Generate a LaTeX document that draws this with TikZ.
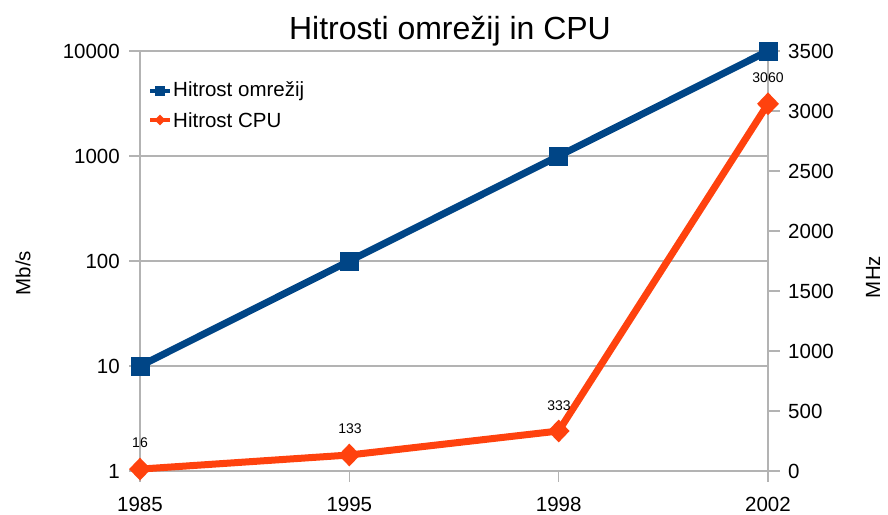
\documentclass[tikz,border=0pt]{standalone}
\usepackage{fontspec}
\setmainfont{Liberation Sans}
\usetikzlibrary{shapes.geometric}
\definecolor{netblue}{HTML}{004586}
\definecolor{cpuorange}{HTML}{FF420E}
\definecolor{gridgray}{HTML}{B3B3B3}
\tikzset{
  gridline/.style={draw=gridgray, line width=1.4pt},
  ticklbl/.style={font=\fontsize{20.5}{22}\selectfont, inner sep=0pt},
  datalbl/.style={font=\fontsize{14}{16}\selectfont, inner sep=0pt},
  netline/.style={draw=netblue, line width=7pt},
  cpuline/.style={draw=cpuorange, line width=7pt, line join=round},
  netmark/.style={fill=netblue, minimum size=19pt, inner sep=0pt, draw=none},
  cpumark/.style={fill=cpuorange, diamond, minimum width=22pt, minimum height=23pt, inner sep=0pt, draw=none},
}
\begin{document}
\begin{tikzpicture}[x=1pt, y=-1pt]
\useasboundingbox (0,0) rectangle (888,514);

% title
\node[anchor=base, font=\fontsize{32}{36}\selectfont, inner sep=0pt] (title) at (450,39) {Hitrosti omrežij in CPU};

% horizontal grid lines (decades of the left axis)
\foreach \yy/\lab in {51/10000,156/1000,261/100,366/10,471/1} {
  \draw[gridline] (129,\yy) -- (768,\yy);
  \node[ticklbl, anchor=east] (l\lab) at (120,\yy) {\lab};
}
% right axis ticks
\foreach \v in {0,500,...,3500} {
  \pgfmathsetmacro{\yy}{471-\v*0.12}
  \draw[gridline] (768,\yy) -- (780,\yy);
  \node[ticklbl, anchor=west] (r\v) at (788,\yy) {\v};
}
% axes
\draw[gridline] (140,51) -- (140,482);
\draw[gridline] (768,51) -- (768,482);
% category ticks and labels
\foreach \i/\yr in {0/1985,1/1995,2/1998,3/2002} {
  \pgfmathsetmacro{\xx}{140+\i*209.33}
  \draw[gridline] (\xx,471) -- (\xx,482);
  \node[ticklbl] (y\yr) at (\xx,504) {\yr};
}

% axis titles
\node[ticklbl, rotate=90] (ytitleL) at (23,273) {Mb/s};
\node[ticklbl, rotate=90] (ytitleR) at (873,277) {MHz};

% data points
\coordinate (n1) at (140,366);
\coordinate (n2) at (349.33,261);
\coordinate (n3) at (558.67,156);
\coordinate (n4) at (768,51);
\coordinate (c1) at (140,469.1);
\coordinate (c2) at (349.33,455.0);
\coordinate (c3) at (558.67,431.0);
\coordinate (c4) at (768,103.8);

% network speed series
\draw[netline] (n1) -- (n2) -- (n3) -- (n4);
\foreach \p in {n1,n2,n3,n4} \node[netmark] (m\p) at (\p) {};

% CPU speed series
\draw[cpuline] (c1) -- (c2) -- (c3) -- (c4);
\foreach \p in {c1,c2,c3,c4} \node[cpumark] (m\p) at (\p) {};

% value labels
\node[datalbl] (v1) at (140,443) {16};
\node[datalbl] (v2) at (350,429) {133};
\node[datalbl] (v3) at (559,406) {333};
\node[datalbl] (v4) at (768,78) {3060};

% legend
\coordinate (la1) at (150,91);
\coordinate (lb1) at (170,91);
\coordinate (la2) at (150,120);
\coordinate (lb2) at (170,120);
\draw[draw=netblue, line width=4pt] (la1) -- (lb1);
\node[fill=netblue, minimum size=10pt, inner sep=0pt] (lgm1) at (160,91) {};
\draw[draw=cpuorange, line width=4pt] (la2) -- (lb2);
\node[fill=cpuorange, diamond, minimum size=11pt, inner sep=0pt] (lgm2) at (160,120) {};
\node[ticklbl, anchor=west] (lgt1) at (173,91) {Hitrost omrežij};
\node[ticklbl, anchor=west] (lgt2) at (173,120) {Hitrost CPU};
\end{tikzpicture}
\end{document}
